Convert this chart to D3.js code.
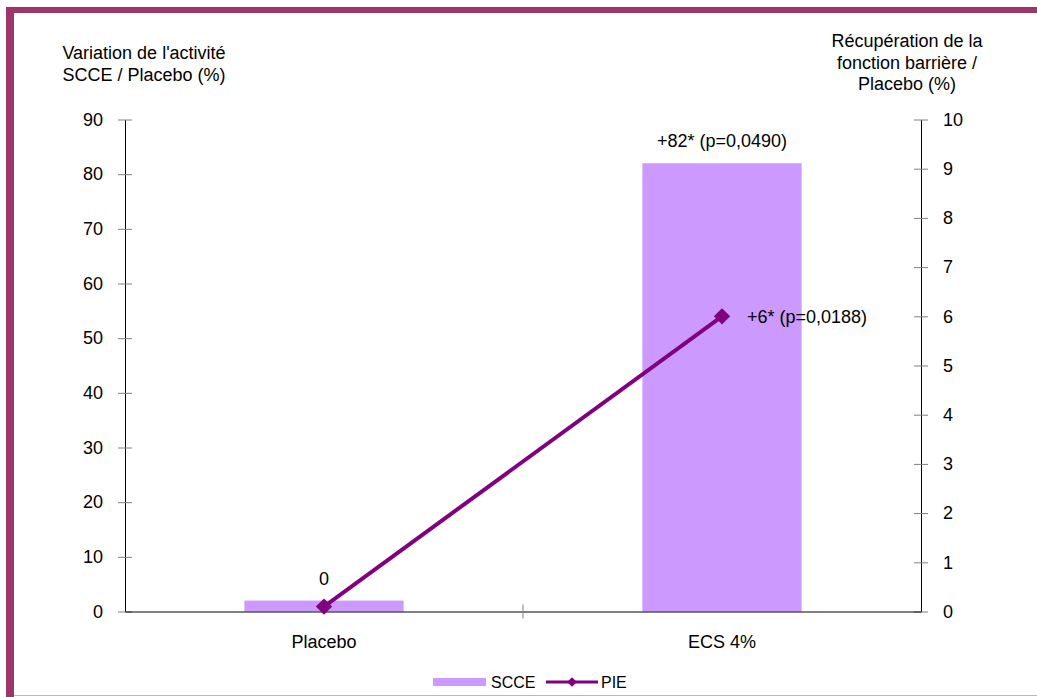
<!DOCTYPE html>
<html>
<head>
<meta charset="utf-8">
<script src="https://cdn.jsdelivr.net/npm/d3@7"></script>
<style>
  html, body { margin: 0; padding: 0; background: #fff; }
  svg { display: block; font-family: "Liberation Sans", Arial, sans-serif; }
</style>
</head>
<body>
<svg id="chart" width="1037" height="697"></svg>
<script>
// Groups and measured values
const categories = ["Placebo", "ECS 4%"];
const scceValues = [2, 82];          // Variation de l'activité SCCE / Placebo (%)
const pieValues = [0.1, 6];          // Récupération de la fonction barrière / Placebo (%)
const scceLabels = ["0", "+82* (p=0,0490)"];
const pieLabels = [null, "+6* (p=0,0188)"];
const leftTicks = [0, 10, 20, 30, 40, 50, 60, 70, 80, 90];
const rightTicks = [0, 1, 2, 3, 4, 5, 6, 7, 8, 9, 10];
const leftTitle = ["Variation de l'activité", "SCCE / Placebo (%)"];
const rightTitle = ["Récupération de la", "fonction barrière /", "Placebo (%)"];
const seriesNames = ["SCCE", "PIE"];

const svg = d3.select("#chart");
const frameColor = "#9e3669";
const barColor = "#cc99ff";
const lineColor = "#800080";
const tickColor = "#808080";
const fontFamily = "Liberation Sans, Arial, sans-serif";
const fs = 18;

// Frame
svg.append("rect").attr("x", 6).attr("y", 7).attr("width", 1031).attr("height", 6).attr("fill", frameColor);
svg.append("rect").attr("x", 6).attr("y", 7).attr("width", 8).attr("height", 690).attr("fill", frameColor);
svg.append("line").attr("x1", 14).attr("x2", 1037).attr("y1", 695.5).attr("y2", 695.5)
  .attr("stroke", "#dba6c3").attr("stroke-width", 1);

const plot = { left: 125, right: 921, top: 119.5, bottom: 611.5 };

const x = d3.scaleBand().domain(categories).range([plot.left, plot.right]).paddingInner(0).paddingOuter(0);
const yL = d3.scaleLinear().domain([0, 90]).range([plot.bottom, plot.top]);
const yR = d3.scaleLinear().domain([0, 10]).range([plot.bottom, plot.top]);
const barW = x.bandwidth() * 0.4;

// Bars
svg.append("g").selectAll("rect").data(categories).join("rect")
  .attr("x", (d) => x(d) + x.bandwidth() / 2 - barW / 2)
  .attr("y", (d, i) => yL(scceValues[i]))
  .attr("width", barW)
  .attr("height", (d, i) => yL(0) - yL(scceValues[i]))
  .attr("fill", barColor);

// Left axis
const axisL = svg.append("g").attr("transform", `translate(${plot.left},0)`)
  .call(d3.axisLeft(yL).tickValues(leftTicks).tickSize(0).tickPadding(22));
axisL.select(".domain").attr("stroke", "#000");
axisL.selectAll(".tick text").attr("font-size", fs).attr("fill", "#000").attr("font-family", fontFamily);
axisL.selectAll(".tick").append("line").attr("x1", -7).attr("x2", 7).attr("stroke", tickColor);

// Right axis
const axisR = svg.append("g").attr("transform", `translate(${plot.right},0)`)
  .call(d3.axisRight(yR).tickValues(rightTicks).tickSize(0).tickPadding(22));
axisR.select(".domain").attr("stroke", "#000");
axisR.selectAll(".tick text").attr("font-size", fs).attr("fill", "#000").attr("font-family", fontFamily);
axisR.selectAll(".tick").append("line").attr("x1", -7).attr("x2", 7).attr("stroke", tickColor);

// Category axis
const axisB = svg.append("g").attr("transform", `translate(0,${plot.bottom})`)
  .call(d3.axisBottom(x).tickSize(0).tickPadding(24));
axisB.select(".domain").attr("stroke", "#000");
axisB.selectAll(".tick text").attr("font-size", fs).attr("fill", "#000").attr("font-family", fontFamily);
// separators between categories
svg.append("g").selectAll("line").data(categories.slice(1)).join("line")
  .attr("x1", (d) => x(d)).attr("x2", (d) => x(d))
  .attr("y1", plot.bottom - 7).attr("y2", plot.bottom + 7)
  .attr("stroke", tickColor);

// PIE line
const cx = (d) => x(d) + x.bandwidth() / 2;
const line = d3.line().x((d, i) => cx(categories[i])).y((d) => yR(d));
svg.append("path").datum(pieValues).attr("d", line)
  .attr("fill", "none").attr("stroke", lineColor).attr("stroke-width", 4);
const diamond = d3.symbol().type(d3.symbolDiamond2).size(170);
svg.append("g").selectAll("path").data(pieValues).join("path")
  .attr("d", diamond)
  .attr("transform", (d, i) => `translate(${cx(categories[i])},${yR(d)})`)
  .attr("fill", lineColor);

// Value labels
svg.append("g").selectAll("text").data(scceLabels).join("text")
  .attr("x", (d, i) => cx(categories[i]))
  .attr("y", (d, i) => yL(scceValues[i]) - 16)
  .attr("text-anchor", "middle").attr("font-size", fs).attr("fill", "#000")
  .text((d) => d);
svg.append("g").selectAll("text").data(pieLabels.filter((d) => d)).join("text")
  .attr("x", cx(categories[1]) + 25)
  .attr("y", yR(pieValues[1]) + 7)
  .attr("font-size", fs).attr("fill", "#000")
  .text((d) => d);

// Axis titles
svg.append("text").attr("text-anchor", "middle").attr("font-size", fs).attr("fill", "#000")
  .selectAll("tspan").data(leftTitle).join("tspan")
  .attr("x", 144).attr("y", (d, i) => 59 + i * 22).text((d) => d);
svg.append("text").attr("text-anchor", "middle").attr("font-size", fs).attr("fill", "#000")
  .selectAll("tspan").data(rightTitle).join("tspan")
  .attr("x", 907).attr("y", (d, i) => 47 + i * 21.5).text((d) => d);

// Legend
const lg = svg.append("g");
lg.append("rect").attr("x", 433).attr("y", 678).attr("width", 53).attr("height", 8).attr("fill", barColor);
lg.append("text").attr("x", 491).attr("y", 688).attr("font-size", 16).attr("fill", "#000").text(seriesNames[0]);
lg.append("line").attr("x1", 546).attr("x2", 598).attr("y1", 682).attr("y2", 682)
  .attr("stroke", lineColor).attr("stroke-width", 3);
lg.append("path").attr("d", d3.symbol().type(d3.symbolDiamond2).size(60))
  .attr("transform", "translate(572,682)").attr("fill", lineColor);
lg.append("text").attr("x", 601).attr("y", 688).attr("font-size", 16).attr("fill", "#000").text(seriesNames[1]);
</script>
</body>
</html>
